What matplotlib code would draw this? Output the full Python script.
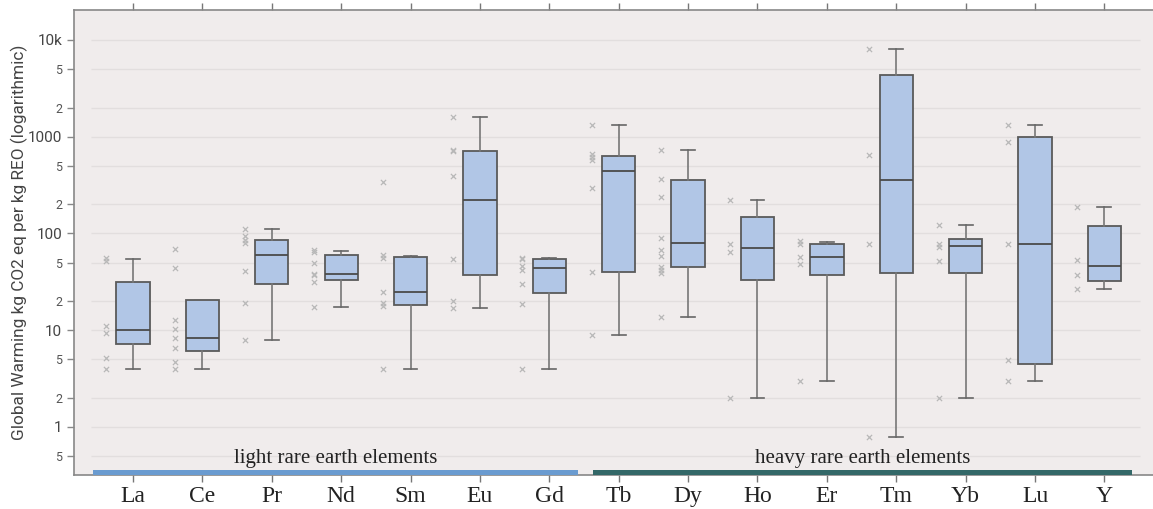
# Global warming potential of rare earth oxides, box plots per element on a log axis.

import numpy as np
import matplotlib
matplotlib.use("Agg")
import matplotlib.pyplot as plt
from matplotlib.patches import Rectangle
from matplotlib.ticker import FixedLocator, FixedFormatter

elements = ["La", "Ce", "Pr", "Nd", "Sm", "Eu", "Gd",
            "Tb", "Dy", "Ho", "Er", "Tm", "Yb", "Lu", "Y"]

# box statistics per element (kg CO2 eq per kg REO)
whisker_low = [4.0, 4.0, 7.9, 17.5, 4.0, 16.9, 4.0, 8.9, 13.8, 2.0, 3.0, 0.79, 2.0, 2.97, 26.7]
q1 = [7.2, 6.1, 30, 33, 18.1, 37.5, 24.3, 39.7, 44.7, 32.8, 37, 39, 39.4, 4.45, 32]
median = [10, 8.3, 59.5, 38, 24.7, 223, 43.7, 438, 79, 70, 57.6, 360, 73.8, 77.3, 45.8]
q3 = [31.3, 20.7, 86, 59.5, 57.6, 713, 55, 637, 360, 149, 78.5, 4310, 88, 994, 120.5]
whisker_high = [55, 20.7, 111, 66, 58.5, 1610, 55.8, 1313, 730, 223, 82, 8000, 123, 1331, 188]

# individual study values shown beside each box
points = [
    [56, 52, 11, 9.3, 5.2, 4.0],
    [69, 44, 12.8, 10.2, 8.3, 6.6, 4.7, 4.0],
    [112, 94, 86, 79, 41, 19, 7.9],
    [67, 64, 49.5, 38.5, 37, 31.8, 17.5],
    [341, 59.5, 55.5, 24.7, 19.1, 17.7, 4.0],
    [1610, 730, 718, 390, 55, 19.9, 16.9],
    [56, 55, 46.5, 42, 29.9, 18.8, 4.0],
    [1313, 658, 620, 575, 293, 39.7, 8.9],
    [730, 366, 240, 90.5, 67.5, 59, 45.4, 42, 39.4, 13.8],
    [223, 77, 64, 2.0],
    [84, 77, 57.6, 48, 3.0],
    [8000, 643, 77, 0.79],
    [123, 78, 73, 51.6, 2.0],
    [1331, 883, 77, 4.96, 2.97],
    [188, 53.2, 37.5, 26.7],
]

groups = ["light rare earth elements", "heavy rare earth elements"]
group_spans = [(-0.58, 6.42), (6.63, 14.4)]
group_colors = ["#6a9bd0", "#336868"]

ytick_major = [1, 10, 100, 1000, 10000]
ytick_major_labels = ["1", "10", "100", "1000", "10k"]
ytick_minor = [0.5, 2, 5, 20, 50, 200, 500, 2000, 5000]
ytick_minor_labels = ["5", "2", "5", "2", "5", "2", "5", "2", "5"]

fig = plt.figure(figsize=(11.53, 5.09), dpi=100)
ax = fig.add_axes([0.0642, 0.0668, 0.9358, 0.9136])
ax.set_facecolor("#f0ecec")

x = np.arange(len(elements))

stats = []
for i in range(len(elements)):
    stats.append({"whislo": whisker_low[i], "q1": q1[i], "med": median[i],
                  "q3": q3[i], "whishi": whisker_high[i], "fliers": []})

ax.bxp(stats, positions=x, widths=0.48, patch_artist=True, showfliers=False,
       boxprops=dict(facecolor="#b1c6e6", edgecolor="#5a5a5a", linewidth=1.3),
       medianprops=dict(color="#4a4a4a", linewidth=1.3),
       whiskerprops=dict(color="#777777", linewidth=1.2),
       capprops=dict(color="#666666", linewidth=1.2),
       capwidths=0.2, zorder=3)

for i, vals in enumerate(points):
    ax.scatter(np.full(len(vals), x[i] - 0.39), vals, marker="x", s=14,
               color="#b8b8b8", linewidths=0.9, zorder=2)

ax.set_yscale("log")
ax.set_ylim(0.319, 20400)
ax.set_xlim(-0.85, 14.7)

# grid lines, drawn so they stop short of the axes edges
for v in ytick_major + ytick_minor:
    ax.hlines(v, -0.6, 14.51, color="#e2dede", linewidth=1.0, zorder=1)

ax.yaxis.set_major_locator(FixedLocator(ytick_major))
ax.yaxis.set_major_formatter(FixedFormatter(ytick_major_labels))
ax.yaxis.set_minor_locator(FixedLocator(ytick_minor))
ax.yaxis.set_minor_formatter(FixedFormatter(ytick_minor_labels))
ax.tick_params(axis="y", which="major", labelsize=11, colors="#888888",
               labelcolor="#444444", length=5, width=1)
ax.tick_params(axis="y", which="minor", labelsize=9, colors="#888888",
               labelcolor="#555555", length=5, width=1)
for lab in ax.get_yticklabels(which="both"):
    lab.set_family("Roboto")

ax.set_xticks(x)
ax.set_xticklabels(elements, family="Liberation Serif", fontsize=17, color="#222222")
ax.tick_params(axis="x", which="both", top=True, bottom=True, length=5,
               width=1, colors="#777777", labelcolor="#222222", pad=3)

for side in ["left", "top", "bottom"]:
    ax.spines[side].set_color("#888888")
    ax.spines[side].set_linewidth(1.2)
ax.spines["right"].set_visible(False)

ax.set_ylabel("Global Warming kg CO2 eq per kg REO (logarithmic)",
              family="Roboto", fontsize=12.4, color="#444444", labelpad=0)

# element group bars along the bottom
trans = ax.get_xaxis_transform()
for name, (x0, x1), col in zip(groups, group_spans, group_colors):
    ax.add_patch(Rectangle((x0, 0.0), x1 - x0, 0.011, transform=trans,
                           facecolor=col, edgecolor="none", zorder=4, clip_on=False))
    ax.text((x0 + x1) / 2, 0.036, name, transform=trans, ha="center", va="center",
            family="Liberation Serif", fontsize=15, color="#222222")

plt.savefig("out.png", dpi=100)
